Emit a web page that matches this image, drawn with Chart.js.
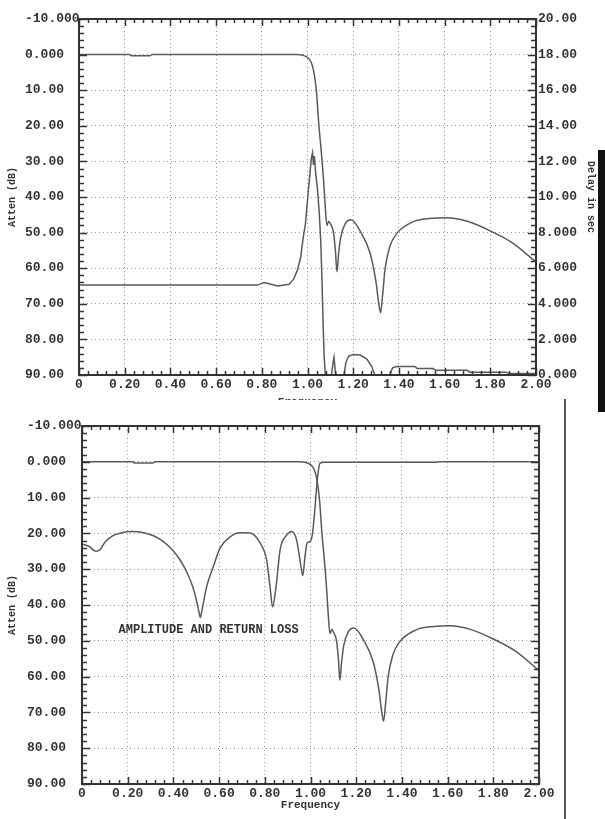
<!DOCTYPE html>
<html>
<head>
<meta charset="utf-8">
<script src="https://cdn.jsdelivr.net/npm/chart.js@4.4.1/dist/chart.umd.min.js"></script>
<style>
  html, body { margin: 0; padding: 0; background: #fff; }
  body { width: 605px; height: 819px; position: relative; overflow: hidden; }
  #topWrap { position: absolute; left: 0; top: 0; width: 605px; height: 420px; }
  #botWrap { position: absolute; left: 0; top: 400px; width: 605px; height: 419px; background: #fff; }
  .bar { position: absolute; }
</style>
</head>
<body>
<div id="topWrap"><canvas id="topChart" width="605" height="420"></canvas></div>
<div id="botWrap"><canvas id="botChart" width="605" height="419"></canvas></div>
<div class="bar" style="left:598px;top:150px;width:7px;height:262px;background:#111"></div>
<div class="bar" style="left:564px;top:399px;width:2px;height:420px;background:#555"></div>
<script>
// tick labels
const xTickLabels = ['0', '0.20', '0.40', '0.60', '0.80', '1.00', '1.20', '1.40', '1.60', '1.80', '2.00'];
const attenTickLabels = ['-10.000', '0.000', '10.00', '20.00', '30.00', '40.00', '50.00', '60.00', '70.00', '80.00', '90.00'];
const delayTickLabels = ['0.000', '2.000', '4.000', '6.000', '8.000', '10.00', '12.00', '14.00', '16.00', '18.00', '20.00'];

// attenuation (dB) vs frequency, same filter in both plots
const attenFreq = [0, 0.22, 0.23, 0.31, 0.32, 0.95, 0.98, 1.00, 1.015, 1.025, 1.033, 1.04, 1.05, 1.06, 1.07, 1.077, 1.085, 1.093, 1.10, 1.114, 1.122, 1.129, 1.136, 1.145, 1.165, 1.19, 1.23, 1.275, 1.30, 1.312, 1.32, 1.328, 1.34, 1.36, 1.39, 1.46, 1.54, 1.61, 1.70, 1.80, 1.90, 2.00];
const attenDb = [0, 0, 0.35, 0.35, 0, 0, 0.2, 0.8, 2, 4, 7, 11, 20, 27, 35, 42, 48, 46.8, 47.5, 50, 55, 61, 56, 51.5, 47.5, 46.4, 49.5, 56, 64, 70, 72.5, 68, 60, 54, 50.3, 47, 46, 45.8, 46.8, 49.5, 53, 58.3];

// group delay (sec), top plot
const delayFreq = [0, 0.78, 0.81, 0.84, 0.87, 0.92, 0.94, 0.956, 0.97, 0.98, 0.991, 1.0, 1.009, 1.017, 1.022, 1.026, 1.03, 1.036, 1.044, 1.052, 1.058, 1.063, 1.068, 1.073, 1.078, 1.105, 1.112, 1.116, 1.121, 1.126, 1.16, 1.168, 1.18, 1.20, 1.23, 1.26, 1.28, 1.295, 1.36, 1.372, 1.39, 1.47, 1.48, 1.55, 1.56, 1.70, 1.71, 1.87, 1.88, 2.00];
const delaySec = [5.05, 5.05, 5.2, 5.1, 5.0, 5.1, 5.4, 5.9, 6.6, 7.6, 8.5, 9.8, 11.1, 12.2, 12.5, 11.8, 12.3, 11.3, 10.4, 9.0, 7.5, 5.5, 3.0, 1.0, 0, 0, 0.7, 1.0, 0.3, 0, 0, 0.7, 1.05, 1.15, 1.12, 0.9, 0.5, 0, 0, 0.4, 0.48, 0.48, 0.36, 0.36, 0.26, 0.26, 0.16, 0.16, 0.08, 0.08];

// return loss (dB), bottom plot
const rlFreq = [0, 0.03, 0.06, 0.08, 0.10, 0.13, 0.17, 0.22, 0.27, 0.31, 0.35, 0.39, 0.43, 0.46, 0.485, 0.50, 0.512, 0.518, 0.525, 0.545, 0.574, 0.604, 0.648, 0.69, 0.735, 0.78, 0.808, 0.823, 0.834, 0.849, 0.867, 0.896, 0.917, 0.939, 0.954, 0.966, 0.976, 0.985, 0.998, 1.009, 1.02, 1.027, 1.034, 1.042, 1.06, 1.55, 1.56, 2.00];
const rlDb = [23, 23.6, 25, 24.5, 22.5, 20.8, 19.9, 19.5, 19.8, 20.6, 22, 24.2, 27.5, 31, 35, 38.5, 42, 43.5, 41.5, 35, 29.4, 24.1, 21, 19.8, 19.9, 22.7, 27.4, 35, 40.5, 35, 24.6, 20.5, 19.5, 21.8, 27.4, 31.8, 26.5, 22.7, 22.3, 19.9, 12.5, 6.9, 2.7, 0.4, 0.15, 0.15, 0, 0];

const noteText = 'AMPLITUDE AND RETURN LOSS';

const toXY = (xs, ys) => xs.map((x, i) => ({ x: x, y: ys[i] }));

Chart.defaults.font.family = "'Liberation Mono', 'DejaVu Sans Mono', monospace";
Chart.defaults.font.weight = 'bold';
Chart.defaults.font.size = 13;
Chart.defaults.color = '#333';

const INK = '#333';
const LINE = '#5a5a5a';

// plot frame with inward major/minor tick marks
const frameTicks = {
  id: 'frameTicks',
  afterDraw(chart) {
    const { ctx, chartArea: a, scales } = chart;
    const x = scales.x, y = scales.y;
    ctx.save();
    ctx.strokeStyle = INK;
    ctx.lineWidth = 1.5;
    ctx.beginPath();
    for (let k = 0; k <= 50; k++) {
      const px = Math.round(x.getPixelForValue(k * 0.04)) + 0.5;
      const len = k % 5 === 0 ? 7 : 4;
      ctx.moveTo(px, a.bottom); ctx.lineTo(px, a.bottom - len);
      ctx.moveTo(px, a.top); ctx.lineTo(px, a.top + len);
    }
    for (let k = 0; k <= 50; k++) {
      const py = Math.round(y.getPixelForValue(-10 + k * 2)) + 0.5;
      const len = k % 5 === 0 ? 8 : 5;
      ctx.moveTo(a.left, py); ctx.lineTo(a.left + len, py);
      ctx.moveTo(a.right, py); ctx.lineTo(a.right - len, py);
    }
    ctx.stroke();
    ctx.lineWidth = 2;
    ctx.strokeRect(a.left, a.top, a.right - a.left, a.bottom - a.top);
    ctx.restore();
  }
};

// text label inside the bottom plot
const noteLabel = {
  id: 'noteLabel',
  afterDatasetsDraw(chart, args, opts) {
    if (!opts.text) return;
    const { ctx, scales } = chart;
    ctx.save();
    ctx.font = "bold 12px 'Liberation Mono', monospace";
    ctx.fillStyle = INK;
    ctx.textBaseline = 'middle';
    ctx.fillText(opts.text, scales.x.getPixelForValue(opts.x), scales.y.getPixelForValue(opts.y));
    ctx.restore();
  }
};

const gridOpts = { color: '#9a9a9a', lineWidth: 1, drawTicks: false };

function xScale(titlePadBottom, height) {
  return {
    type: 'linear', min: 0, max: 2,
    ticks: { stepSize: 0.2, autoSkip: false, maxRotation: 0, padding: 2,
             callback: (v, i) => xTickLabels[i] },
    grid: gridOpts,
    border: { display: false, dash: [1, 3] },
    title: { display: true, text: 'Frequency', font: { size: 11 },
             padding: { top: 0, bottom: titlePadBottom } },
    afterFit: s => { s.height = height; }
  };
}

function attenScales(labelWidth, titleWidth) {
  return {
    y: {
      position: 'left', weight: 0, min: -10, max: 90, reverse: true,
      ticks: { stepSize: 10, crossAlign: 'far', padding: 0,
               callback: v => attenTickLabels[Math.round((v + 10) / 10)] },
      grid: gridOpts,
      border: { display: false, dash: [1, 3] },
      afterFit: s => { s.width = labelWidth; }
    },
    yTitle: {
      position: 'left', weight: 1, min: -10, max: 90,
      ticks: { display: false },
      grid: { display: false, drawTicks: false },
      border: { display: false },
      title: { display: true, text: 'Atten (dB)', font: { size: 10 }, padding: { top: 6, bottom: 0 } },
      afterFit: s => { s.width = titleWidth; }
    }
  };
}

const lineStyle = { borderColor: LINE, borderWidth: 1.5, pointRadius: 0, fill: false };

new Chart(document.getElementById('topChart'), {
  type: 'line',
  data: {
    datasets: [
      Object.assign({ label: 'Atten', data: toXY(attenFreq, attenDb), yAxisID: 'y',
                      cubicInterpolationMode: 'monotone' }, lineStyle),
      Object.assign({ label: 'Delay', data: toXY(delayFreq, delaySec), yAxisID: 'y2' }, lineStyle)
    ]
  },
  options: {
    responsive: false,
    animation: false,
    layout: { padding: { top: 19, left: 0, right: 0, bottom: 0 } },
    plugins: { legend: { display: false }, tooltip: { enabled: false } },
    scales: Object.assign({
      x: xScale(11, 45),
      y2: {
        position: 'right', min: 0, max: 20,
        ticks: { stepSize: 2, padding: 2, callback: v => delayTickLabels[Math.round(v / 2)] },
        grid: { display: false, drawTicks: false },
        border: { display: false },
        title: { display: true, text: 'Delay in sec', font: { size: 10 }, padding: { top: 8, bottom: 0 } },
        afterFit: s => { s.width = 69; }
      }
    }, attenScales(54, 25))
  },
  plugins: [frameTicks]
});

new Chart(document.getElementById('botChart'), {
  type: 'line',
  data: {
    datasets: [
      Object.assign({ label: 'Atten', data: toXY(attenFreq, attenDb), yAxisID: 'y',
                      cubicInterpolationMode: 'monotone' }, lineStyle),
      Object.assign({ label: 'Return loss', data: toXY(rlFreq, rlDb), yAxisID: 'y',
                      cubicInterpolationMode: 'monotone' }, lineStyle)
    ]
  },
  options: {
    responsive: false,
    animation: false,
    layout: { padding: { top: 26, left: 0, right: 66, bottom: 0 } },
    plugins: {
      legend: { display: false }, tooltip: { enabled: false },
      noteLabel: { text: noteText, x: 0.16, y: 47 }
    },
    scales: Object.assign({ x: xScale(7, 35) }, attenScales(55, 27))
  },
  plugins: [frameTicks, noteLabel]
});
</script>
</body>
</html>
